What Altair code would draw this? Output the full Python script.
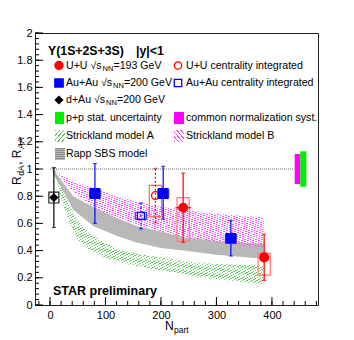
import altair as alt
import pandas as pd
import numpy as np

FONT = "Liberation Sans"
X0, Y0 = 35, 33          # plot-area origin on the page
W, H = 283, 272
XDOM = [-27, 483]
YDOM = [0, 2]

# ---------------- data ----------------
dau_N = [7];            dau_R = [0.79];  dau_stat = [0.22];  dau_sys = [0.04]
auau_N = [81, 204, 326]; auau_R = [0.82, 0.82, 0.49]
auau_stat_hi = [0.22, 0.20, 0.13]; auau_stat_lo = [0.22, 0.19, 0.13]
auau_sys = [0.025, 0.025, 0.025]
auau_int_N = [164]; auau_int_R = [0.655]; auau_int_stat = [0.095]; auau_int_sys = [0.025]
uu_N = [240, 386]; uu_R = [0.715, 0.35]; uu_stat = [0.255, 0.17]
uu_sys_hi = [0.075, 0.03]; uu_sys_lo = [0.245, 0.13]; uu_Nerr = [14, 8]
uu_int_N = [190]; uu_int_R = [0.805]; uu_int_stat = [0.20]
uu_int_sys_hi = [0.075]; uu_int_sys_lo = [0.155]

# model bands
rapp_N  = [5, 18, 42, 78, 120, 156, 200, 240, 300, 385]
rapp_hi = [1.0, 0.93, 0.80, 0.72, 0.64, 0.58, 0.54, 0.50, 0.47, 0.45]
rapp_lo = [0.97, 0.88, 0.70, 0.58, 0.51, 0.46, 0.42, 0.40, 0.37, 0.34]
strB_N  = [9, 20, 40, 78, 120, 156, 200, 240, 300, 385]
strB_hi = [1.0, 0.96, 0.91, 0.86, 0.80, 0.76, 0.72, 0.70, 0.67, 0.645]
strB_lo = [1.0, 0.93, 0.84, 0.72, 0.64, 0.59, 0.54, 0.50, 0.46, 0.42]
strA_N  = [9, 20, 36, 50, 70, 100, 140, 180, 250, 300, 385]
strA_hi = [1.0, 0.88, 0.72, 0.62, 0.53, 0.45, 0.39, 0.36, 0.32, 0.30, 0.29]
strA_lo = [0.98, 0.78, 0.60, 0.48, 0.41, 0.35, 0.30, 0.27, 0.22, 0.19, 0.15]

unity_N = [0, 440]
norm_cm = {"n1": 441, "n2": 451, "lo": 0.89, "hi": 1.11}
norm_pp = {"n1": 451, "n2": 462, "lo": 0.87, "hi": 1.13}

# ---------------- helpers ----------------
def X(f):
    return alt.X(f, type="quantitative", scale=alt.Scale(domain=XDOM, nice=False, zero=False),
                 axis=alt.Axis(values=[0, 100, 200, 300, 400], title=None, grid=False, ticks=False,
                               tickSize=0, domain=False, labelFont=FONT, labelFontSize=11,
                               labelColor="black", labelPadding=4, labelFlush=False))

def Y(f):
    return alt.Y(f, type="quantitative", scale=alt.Scale(domain=YDOM, nice=False, zero=False),
                 axis=alt.Axis(values=[round(v, 1) for v in np.arange(0, 2.01, 0.2)], title=None,
                               grid=False, ticks=False, tickSize=0, domain=False, format="~g",
                               labelFont=FONT, labelFontSize=11, labelColor="black", labelPadding=3))

def hatch(color, n, vec, frac=0.3):
    clear = "rgba(255,255,255,0)"
    stops = []
    for i in range(n):
        a, b, c = i / n, (i + frac) / n, (i + 1) / n
        stops += [alt.GradientStop(color=color, offset=a), alt.GradientStop(color=color, offset=b),
                  alt.GradientStop(color=clear, offset=b), alt.GradientStop(color=clear, offset=c)]
    x1, y1, x2, y2 = vec
    return alt.Gradient(gradient="linear", stops=stops, x1=x1, y1=y1, x2=x2, y2=y2)

SLASH = (0, 0, 1, 1)      # "////"
BSLASH = (0, 1, 1, 0)     # "\\\\"
GREEN_H = "#66cc66"
MAG_H = "#ff55ff"
GRAY_B = "#b8b8b8"
GRAY_L = "#8c8c8c"

def series(N, R, lo, hi, blo, bhi, hw, nerr=None):
    d = pd.DataFrame({"N": N, "R": R})
    d["lo"] = [r - e for r, e in zip(R, lo)]
    d["hi"] = [r + e for r, e in zip(R, hi)]
    d["blo"] = [r - e for r, e in zip(R, blo)]
    d["bhi"] = [r + e for r, e in zip(R, bhi)]
    d["n1"] = [n - hw for n in N]
    d["n2"] = [n + hw for n in N]
    if nerr is not None:
        d["nl"] = [n - e for n, e in zip(N, nerr)]
        d["nh"] = [n + e for n, e in zip(N, nerr)]
    return d

dau = series(dau_N, dau_R, dau_stat, dau_stat, dau_sys, dau_sys, 9)
auau = series(auau_N, auau_R, auau_stat_lo, auau_stat_hi, auau_sys, auau_sys, 10)
auau_int = series(auau_int_N, auau_int_R, auau_int_stat, auau_int_stat, auau_int_sys, auau_int_sys, 10)
uu = series(uu_N, uu_R, uu_stat, uu_stat, uu_sys_lo, uu_sys_hi, 11, uu_Nerr)
uu_int = series(uu_int_N, uu_int_R, uu_int_stat, uu_int_stat, uu_int_sys_lo, uu_int_sys_hi, 11)

one = pd.DataFrame({"k": [0]})   # single row for annotation marks
layers = []

# ---------------- model bands ----------------
rapp = pd.DataFrame({"N": rapp_N, "lo": rapp_lo, "hi": rapp_hi})
strB = pd.DataFrame({"N": strB_N, "lo": strB_lo, "hi": strB_hi})
strA = pd.DataFrame({"N": strA_N, "lo": strA_lo, "hi": strA_hi})
layers.append(alt.Chart(rapp).mark_area(fill=GRAY_B).encode(x=X("N"), y=Y("lo"), y2="hi"))
layers.append(alt.Chart(rapp).mark_area(fill=hatch(GRAY_L, 90, (0, 0, 0, 1), 0.35))
              .encode(x=X("N"), y=Y("lo"), y2="hi"))
layers.append(alt.Chart(strB).mark_area(fill=hatch(MAG_H, 75, BSLASH)).encode(x=X("N"), y=Y("lo"), y2="hi"))
layers.append(alt.Chart(strA).mark_area(fill=hatch(GREEN_H, 85, SLASH)).encode(x=X("N"), y=Y("lo"), y2="hi"))

# unity line
unity = pd.DataFrame({"a": [unity_N[0]], "b": [unity_N[1]], "y": [1.0]})
layers.append(alt.Chart(unity).mark_rule(color="#666666", strokeDash=[1, 1], strokeWidth=1)
              .encode(x=X("a"), x2="b", y=Y("y")))

# normalisation boxes
norm = pd.DataFrame([dict(norm_cm, c="#ff00ff"), dict(norm_pp, c="#00ee00")])
layers.append(alt.Chart(norm).mark_rect().encode(x=X("n1"), x2="n2", y=Y("lo"), y2="hi",
                                                  color=alt.Color("c:N", scale=None)))

# ---------------- data points ----------------
def draw(d, col, box_col, shape, filled, size, dashed=False, box_fill="none"):
    out = []
    out.append(alt.Chart(d).mark_rect(fill=box_fill, stroke=box_col, strokeWidth=1.2)
               .encode(x=X("n1"), x2="n2", y=Y("blo"), y2="bhi"))
    kw = dict(color=col, strokeWidth=1.2)
    if dashed:
        kw["strokeDash"] = [2, 2]
    out.append(alt.Chart(d).mark_rule(**kw).encode(x=X("N"), y=Y("lo"), y2="hi"))
    for f in ("lo", "hi"):
        out.append(alt.Chart(d).mark_tick(orient="horizontal", color=col, size=4, thickness=1.2)
                   .encode(x=X("N"), y=Y(f)))
    if "nl" in d.columns:
        out.append(alt.Chart(d).mark_rule(color=col, strokeWidth=1.2).encode(x=X("nl"), x2="nh", y=Y("R")))
    pt = dict(shape=shape, size=size, opacity=1)
    if filled:
        pt.update(filled=True, fill=col, stroke=col)
    else:
        pt.update(filled=False, stroke=col, strokeWidth=1.3)
    out.append(alt.Chart(d).mark_point(**pt).encode(x=X("N"), y=Y("R")))
    return out

layers += draw(dau, "black", "#222222", "diamond", True, 40)
layers += draw(auau_int, "#0000ff", "#4444ff", "square", False, 50, dashed=True)
layers += draw(uu_int, "#ff0000", "#ff6666", "circle", False, 60, dashed=True)
layers += draw(auau, "#0000ff", "#5555ff", "square", True, 80, box_fill="#dde0ff")
layers += draw(uu, "#ff0000", "#ff7777", "circle", True, 65)

# ---------------- inward ticks ----------------
ymaj = pd.DataFrame({"v": [round(v, 2) for v in np.arange(0, 2.001, 0.2)]})
ymin = pd.DataFrame({"v": [round(v, 2) for v in np.arange(0, 2.001, 0.04)]})
xmaj = pd.DataFrame({"v": [0, 100, 200, 300, 400]})
xmin = pd.DataFrame({"v": list(range(-20, 481, 20))})
layers.append(alt.Chart(ymaj).mark_rule(color="black").encode(y=Y("v"), x=alt.value(0), x2=alt.value(8)))
layers.append(alt.Chart(ymin).mark_rule(color="black").encode(y=Y("v"), x=alt.value(0), x2=alt.value(4)))
layers.append(alt.Chart(xmaj).mark_rule(color="black").encode(x=X("v"), y=alt.value(H), y2=alt.value(H - 8)))
layers.append(alt.Chart(xmin).mark_rule(color="black").encode(x=X("v"), y=alt.value(H), y2=alt.value(H - 4)))

# ---------------- legend & labels (page pixel positions) ----------------
texts = [
    # text, page x, page y, size, bold, angle
    ("Υ(1S+2S+3S)", 48, 51, 12.3, True, 0), ("|y|<1", 136, 51, 12.3, True, 0),
    ("U+U √s", 66, 65.5, 10.6, False, 0), ("NN", 102.5, 68.5, 7.5, False, 0), ("=193 GeV", 113.5, 65.5, 10.6, False, 0),
    ("U+U centrality integrated", 186, 65.5, 10.6, False, 0),
    ("Au+Au √s", 66, 83, 10.6, False, 0), ("NN", 113, 86, 7.5, False, 0), ("=200 GeV", 124, 83, 10.6, False, 0),
    ("Au+Au centrality integrated", 186, 83, 10.6, False, 0),
    ("d+Au √s", 66, 100, 10.6, False, 0), ("NN", 106, 103, 7.5, False, 0), ("=200 GeV", 117, 100, 10.6, False, 0),
    ("p+p stat. uncertainty", 66, 117.5, 10.6, False, 0),
    ("common normalization syst.", 186, 117.5, 10.6, False, 0),
    ("Strickland model A", 66, 135.5, 10.6, False, 0),
    ("Strickland model B", 186, 135.5, 10.6, False, 0),
    ("Rapp SBS model", 66, 153.5, 10.6, False, 0),
    ("STAR preliminary", 53, 290.5, 12.5, True, 0),
    ("N", 165, 326, 12, False, 0), ("part", 174, 329.5, 8.5, False, 0),
    ("R", 16.5, 185, 12, False, 270), ("dA", 20.5, 175.8, 8.5, False, 270),
    (", R", 16.5, 164.8, 12, False, 270), ("AA", 20.5, 149, 8.5, False, 270),
]
for t, x, y, s, b, a in texts:
    kw = dict(text=t, font=FONT, fontSize=s, align="left", baseline="middle", color="black")
    if b:
        kw["fontWeight"] = "bold"
    if a:
        kw["angle"] = a
    layers.append(alt.Chart(one).mark_text(**kw).encode(x=alt.value(x - X0), y=alt.value(y - Y0)))

# legend markers
markers = [
    # page x, page y, shape, filled, colour, size
    (59, 65.5, "circle", True, "#ff0000", 55),
    (178, 65.5, "circle", False, "#ff0000", 55),
    (59, 83, "square", True, "#0000ff", 60),
    (178, 83, "square", False, "#0000ff", 55),
    (59, 100, "diamond", True, "black", 40),
]
for x, y, sh, f, c, s in markers:
    kw = dict(shape=sh, size=s, opacity=1)
    if f:
        kw.update(filled=True, fill=c, stroke=c)
    else:
        kw.update(filled=False, stroke=c, strokeWidth=1.3)
    layers.append(alt.Chart(one).mark_point(**kw).encode(x=alt.value(x - X0), y=alt.value(y - Y0)))

# legend boxes
boxes = [
    # x1, x2, y1, y2 (page), fill
    (55, 64, 112, 124, "#00ee00"),
    (174, 184, 112, 124, "#ff00ff"),
    (55, 65, 130, 142, hatch(GREEN_H, 5, SLASH, 0.35)),
    (174, 184, 130, 142, hatch(MAG_H, 5, BSLASH, 0.35)),
    (55, 65, 148, 160, GRAY_B),
    (55, 65, 148, 160, hatch(GRAY_L, 6, (0, 0, 0, 1), 0.35)),
]
for x1, x2, y1, y2, f in boxes:
    layers.append(alt.Chart(one).mark_rect(fill=f)
                  .encode(x=alt.value(x1 - X0), x2=alt.value(x2 - X0),
                          y=alt.value(y1 - Y0), y2=alt.value(y2 - Y0)))

chart = alt.layer(*layers).properties(
    width=W, height=H,
    autosize=alt.AutoSizeParams(type="none"),
    padding={"left": X0 - 8, "top": Y0 - 8, "right": 354 - 8 - (X0 + W), "bottom": 32},
    background="white",
).configure_view(stroke="#222222", strokeWidth=1)

chart.save("out.html", embed_options={"renderer": "svg", "actions": False})
